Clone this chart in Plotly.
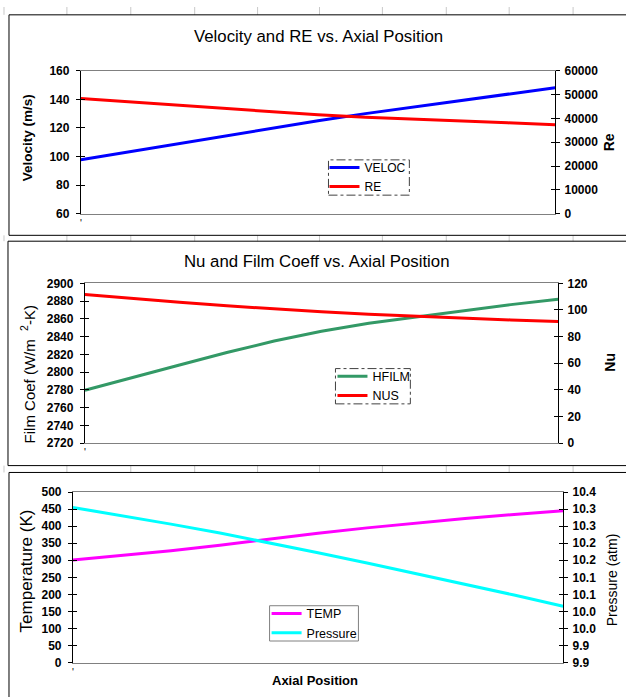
import plotly.graph_objects as go

W, H = 626, 697
FONT = "Liberation Sans, Arial, sans-serif"

# ---------------- data ----------------
axial_position = [0.0, 0.1, 0.2, 0.3, 0.4, 0.5, 0.6, 0.7, 0.8, 0.9, 1.0]
veloc = [97.7, 103.1, 108.7, 114.3, 119.8, 125.0, 130.0, 134.6, 139.1, 143.6, 148.1]
re_num = [48350, 46950, 45550, 44200, 42800, 41500, 40500, 39800, 38950, 38150, 37380]
hfilm = [2779.5, 2794, 2808, 2822, 2835, 2846, 2855, 2862, 2869, 2876, 2882]
nus = [111.7, 108.6, 105.8, 103.1, 100.7, 98.6, 96.8, 95.2, 93.8, 92.5, 91.3]
temp = [300.5, 313.5, 328, 344, 362, 379.5, 395, 409, 422.5, 434.5, 445.5]
pressure = [10.355, 10.331, 10.306, 10.280, 10.252, 10.222, 10.192, 10.161, 10.130, 10.098, 10.065]

x_tickvals = [0.0]
x_ticktext = ["'"]
pressure_tickvals = [9.90, 9.95, 10.00, 10.05, 10.10, 10.15, 10.20, 10.25, 10.30, 10.35, 10.40]
pressure_ticktext = ["9.9", "9.9", "10.0", "10.0", "10.1", "10.1", "10.2", "10.2", "10.3", "10.3", "10.4"]


def px(x):
    return x / W


def py(y):
    return 1 - y / H


panels = [
    dict(x0=80, x1=555, y0=65, y1=211),
    dict(x0=84, x1=558, y0=282, y1=445),
    dict(x0=72, x1=563, y0=495, y1=669),
]

fig = go.Figure()

# traces
fig.add_trace(go.Scatter(x=axial_position, y=veloc, name="VELOC", mode="lines",
                         line=dict(color="#0000FF", width=3), xaxis="x", yaxis="y", legend="legend"))
fig.add_trace(go.Scatter(x=axial_position, y=re_num, name="RE", mode="lines",
                         line=dict(color="#FF0000", width=3), xaxis="x", yaxis="y2", legend="legend"))
fig.add_trace(go.Scatter(x=axial_position, y=hfilm, name="HFILM", mode="lines",
                         line=dict(color="#339966", width=3), xaxis="x2", yaxis="y3", legend="legend2"))
fig.add_trace(go.Scatter(x=axial_position, y=nus, name="NUS", mode="lines",
                         line=dict(color="#FF0000", width=3), xaxis="x2", yaxis="y4", legend="legend2"))
fig.add_trace(go.Scatter(x=axial_position, y=temp, name="TEMP", mode="lines",
                         line=dict(color="#FF00FF", width=3), xaxis="x3", yaxis="y5", legend="legend3"))
fig.add_trace(go.Scatter(x=axial_position, y=pressure, name="Pressure", mode="lines",
                         line=dict(color="#00FFFF", width=3), xaxis="x3", yaxis="y6", legend="legend3"))

tickfont = dict(family=FONT, size=12, color="black", weight="bold")

y_specs = [
    dict(lr=[60, 160], ld=20, rr=[0, 60000], rd=10000, rv=None, rt=None),
    dict(lr=[2720, 2900], ld=20, rr=[0, 120], rd=20, rv=None, rt=None),
    dict(lr=[0, 500], ld=50, rr=[9.9, 10.4], rd=None, rv=pressure_tickvals, rt=pressure_ticktext),
]

layout = {}
for i, (p, s) in enumerate(zip(panels, y_specs)):
    xn = "" if i == 0 else str(i + 1)
    xname = "x" + xn
    dom_x = [px(p["x0"]), px(p["x1"])]
    dom_y = [py(p["y1"]), py(p["y0"])]
    layout["xaxis" + xn] = dict(
        domain=dom_x, anchor="y" + ("" if i == 0 else str(2 * i + 1)), range=[0, 1],
        showline=True, linecolor="#808080", linewidth=1, mirror=True,
        showgrid=False, zeroline=False, ticks="",
        tickmode="array", tickvals=x_tickvals, ticktext=x_ticktext,
        tickfont=dict(family=FONT, size=10, color="#000000"), ticklabelstandoff=0,
        fixedrange=True,
    )
    li = 2 * i + 1
    ri = 2 * i + 2
    lname = "yaxis" + ("" if li == 1 else str(li))
    rname = "yaxis" + str(ri)
    base = "y" + ("" if li == 1 else str(li))
    left = dict(domain=dom_y, anchor=xname, range=s["lr"], dtick=s["ld"], tick0=s["lr"][0],
                showline=True, linecolor="black", linewidth=1, showgrid=False, zeroline=False,
                ticks="outside", ticklen=4, tickcolor="black", tickfont=tickfont,
                ticklabelstandoff=4)
    right = dict(domain=dom_y, anchor=xname, overlaying=base, side="right", range=s["rr"],
                 showline=True, linecolor="black", linewidth=1, showgrid=False, zeroline=False,
                 ticks="outside", ticklen=4, tickcolor="black", tickfont=tickfont,
                 ticklabelstandoff=2, tickformat="d")
    if s["rv"] is not None:
        right.update(tickmode="array", tickvals=s["rv"], ticktext=s["rt"])
    else:
        right.update(dtick=s["rd"], tick0=s["rr"][0])
    layout[lname] = left
    layout[rname] = right
    # inner half of the cross ticks
    for k, (src, side) in enumerate([(left, "left"), (right, "right")]):
        idx = 7 + 2 * i + k
        dup = dict(domain=dom_y, anchor=xname, overlaying=base, side=side, range=src["range"],
                   showline=False, showgrid=False, zeroline=False, showticklabels=False,
                   ticks="inside", ticklen=4, tickcolor="black")
        if "tickvals" in src:
            dup.update(tickmode="array", tickvals=src["tickvals"])
        else:
            dup.update(dtick=src["dtick"], tick0=src["tick0"])
        layout["yaxis" + str(idx)] = dup
        fig.add_trace(go.Scatter(x=[None], y=[None], xaxis=xname, yaxis="y" + str(idx),
                                 showlegend=False, hoverinfo="skip"))

# shapes: spreadsheet grid in the gaps, chart borders, legend borders
shapes = []
col_x = [3, 66, 130, 194, 257, 319, 382, 446, 509, 573]
for (ya, yb) in [(0, 8), (233, 239), (468, 475)]:
    for cx in col_x:
        shapes.append(dict(type="line", xref="paper", yref="paper", x0=px(cx), x1=px(cx),
                           y0=py(ya), y1=py(yb), line=dict(color="#c8c8c8", width=1), layer="below"))
for (x0, y0, x1, y1) in [(8, 8, 640, 233), (7, 239, 640, 468), (8, 475, 640, 710)]:
    shapes.append(dict(type="rect", xref="paper", yref="paper", x0=px(x0), x1=px(x1),
                       y0=py(y1), y1=py(y0), line=dict(color="black", width=1), layer="below"))
for (x0, y0, x1, y1, dash, col) in [(328, 156, 409, 192, "dashdot", "#404040"),
                                    (335, 369, 410, 405, "dashdot", "#404040"),
                                    (269, 611, 358, 647, "solid", "#808080")]:
    shapes.append(dict(type="rect", xref="paper", yref="paper", x0=px(x0), x1=px(x1),
                       y0=py(y1), y1=py(y0), line=dict(color=col, width=1, dash=dash),
                       fillcolor="white", layer="below"))

ann = []


def add_text(text, x, y, size, bold=False, angle=0):
    ann.append(dict(text=text, x=px(x), y=py(y), xref="paper", yref="paper", showarrow=False,
                    xanchor="center", yanchor="middle", textangle=angle,
                    font=dict(family=FONT, size=size, color="black",
                              weight="bold" if bold else "normal")))


add_text("Velocity and RE vs. Axial Position", 318, 30, 16.8)
add_text("Nu and Film Coeff vs. Axial Position", 317, 260, 16.8)
add_text("Velocity (m/s)", 26, 133, 13.5, bold=True, angle=-90)
add_text("Re", 609, 138, 14, bold=True, angle=-90)
add_text("Film Coef (W/m  <sup>2</sup>-K)", 27, 375, 15, angle=-90)
add_text("Nu", 610, 363, 14, bold=True, angle=-90)
add_text("Temperature (K)", 25, 575, 17, angle=-90)
add_text("Pressure (atm)", 612, 585, 14, angle=-90)
add_text("Axial Position", 315, 687, 13, bold=True)

leg_common = dict(xanchor="left", yanchor="top", bgcolor="rgba(0,0,0,0)", borderwidth=0,
                  tracegroupgap=0, itemwidth=30)

fig.update_layout(
    width=W, height=H, autosize=False,
    margin=dict(l=0, r=0, t=0, b=0),
    paper_bgcolor="white", plot_bgcolor="white",
    shapes=shapes, annotations=ann,
    legend=dict(x=px(324), y=py(149), font=dict(family=FONT, size=12, color="black"), **leg_common),
    legend2=dict(x=px(332), y=py(362), font=dict(family=FONT, size=12.5, color="black"), **leg_common),
    legend3=dict(x=px(266), y=py(604), font=dict(family=FONT, size=12.5, color="black"), **leg_common),
    **layout,
)

fig.write_html(
    "out.html",
    config={"displayModeBar": False},
    post_script="document.body.style.margin='0';document.body.style.overflow='hidden';",
)
